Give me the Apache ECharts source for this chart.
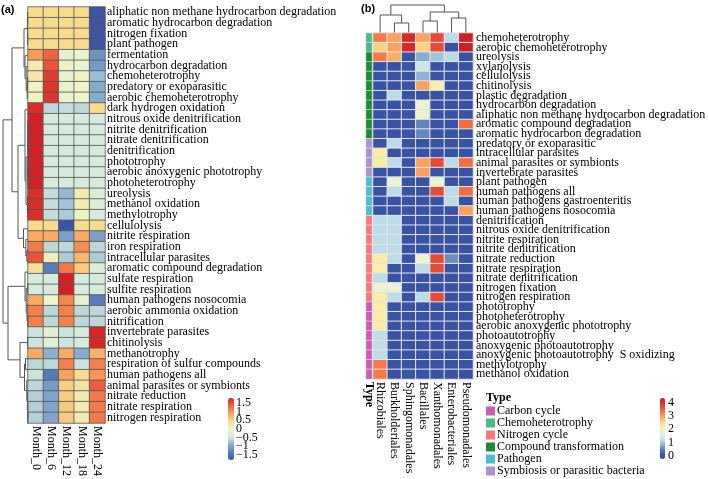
<!DOCTYPE html>
<html><head><meta charset="utf-8">
<script src="https://cdn.jsdelivr.net/npm/echarts@6/dist/echarts.min.js"></script>
<style>html,body{margin:0;padding:0;background:#fff}#c{width:709px;height:479px}</style>
</head><body><div id="c"></div>
<script>
// ---------- Panel (a) data ----------
const monthsA = ['Month_0','Month_6','Month_12','Month_18','Month_24'];
const rowsA = ['aliphatic non methane hydrocarbon degradation','aromatic hydrocarbon degradation','nitrogen fixation','plant pathogen','fermentation','hydrocarbon degradation','chemoheterotrophy','predatory or exoparasitic','aerobic chemoheterotrophy','dark hydrogen oxidation','nitrous oxide denitrification','nitrite denitrification','nitrate denitrification','denitrification','phototrophy','aerobic anoxygenic phototrophy','photoheterotrophy','ureolysis','methanol oxidation','methylotrophy','cellulolysis','nitrite respiration','iron respiration','intracellular parasites','aromatic compound degradation','sulfate respiration','sulfite respiration','human pathogens nosocomia','aerobic ammonia oxidation','nitrification','invertebrate parasites','chitinolysis','methanotrophy','respiration of sulfur compounds','human pathogens all','animal parasites or symbionts','nitrate reduction','nitrate respiration','nitrogen respiration'];
const valuesA = [
 [0.45,0.45,0.45,0.45,-1.79],
 [0.45,0.45,0.45,0.45,-1.79],
 [0.45,0.45,0.45,0.45,-1.79],
 [0.45,0.45,0.45,0.45,-1.79],
 [0.95,1.35,-0.2,-0.1,-1.15],
 [0.2,1.45,0.05,-0.1,-1.1],
 [0.25,1.6,-0.15,0.05,-0.8],
 [0.05,1.65,-0.1,0,-0.95],
 [0.05,1.65,-0.1,0,-0.95],
 [1.7,-0.6,-0.55,-0.6,0.45],
 [1.79,-0.45,-0.45,-0.45,-0.45],
 [1.79,-0.45,-0.45,-0.45,-0.45],
 [1.79,-0.45,-0.45,-0.45,-0.45],
 [1.79,-0.45,-0.45,-0.45,-0.45],
 [1.79,-0.45,-0.45,-0.45,-0.45],
 [1.79,-0.45,-0.45,-0.45,-0.45],
 [1.79,-0.45,-0.45,-0.45,-0.45],
 [1.7,-0.55,-0.85,0.2,-0.35],
 [1.7,-0.55,-0.75,0.15,-0.35],
 [1.7,-0.55,-0.7,0.05,-0.45],
 [0.45,0.45,-1.79,0.45,0.45],
 [0.85,0.85,-1.05,0.85,-1.05],
 [1.2,-0.6,-0.6,1.05,-0.6],
 [1.45,0.1,-0.7,0.75,-0.7],
 [0.4,-1.35,1.2,0.6,-0.3],
 [-0.45,-0.45,1.79,-0.45,-0.45],
 [-0.45,-0.45,1.79,-0.45,-0.45],
 [0.85,0.0,1.1,-0.2,-1.35],
 [1.15,-0.6,1.15,-0.6,-0.6],
 [1.15,-0.6,1.15,-0.6,-0.6],
 [-0.5,-0.25,-0.5,-0.45,1.75],
 [-0.5,-0.25,-0.5,-0.45,1.75],
 [0.85,-0.9,0.85,-0.95,0.8],
 [-0.6,-0.6,1.15,-0.5,1.15],
 [-0.5,-1.4,0.9,0.45,1.0],
 [-0.6,-1.1,0.55,0.3,1.4],
 [-0.65,-1.0,0.6,0.2,1.2],
 [-0.65,-1.0,0.6,0.2,1.2],
 [-0.65,-1.0,0.6,0.2,1.2]
];
// row dendrogram: [left, right, mergeHeight], leaves are row indices
const rowTreeA = [
 [
  [[[0,1,0.3],[2,3,0.3],0.6],[4,[5,[[6,7,0.4],8,0.8],1.8],3.0],4],
  [[9,[[[[10,11,0.1],[12,13,0.1],0.15],[[14,15,0.1],16,0.15],0.2],[17,[18,19,0.3],0.6],2.0],3.0],
   [20,[21,[22,23,1.2],2.2],4.5],10],
  16],
 [[24,[[25,26,0.1],[27,[28,29,0.2],1.0],1.8],3],
  [[30,31,0.3],[[32,33,2.5],[34,[35,[36,[37,38,0.1],0.2],0.6],1.2],3.5],8],
  20],
 25];
const legendTicksA1 = [-1.5,-0.5,0.5,1.5];
const legendTicksA2 = [-1,0,1];

// ---------- Panel (b) data ----------
const ordersB = ['Rhizobiales','Burkholderiales','Sphingomonadales','Bacillales','Xanthomonadales','Enterobacteriales','Pseudomonadales'];
const rowsB = ['chemoheterotrophy','aerobic chemoheterotrophy','ureolysis','xylanolysis','cellulolysis','chitinolysis','plastic degradation','hydrocarbon degradation','aliphatic non methane hydrocarbon degradation','aromatic compound degradation','aromatic hydrocarbon degradation','predatory or exoparasitic','intracellular parasites','animal parasites or symbionts','invertebrate parasites','plant pathogen','human pathogens all','human pathogens gastroenteritis','human pathogens nosocomia','denitrification','nitrous oxide denitrification','nitrite respiration','nitrite denitrification','nitrate reduction','nitrate respiration','nitrate denitrification','nitrogen fixation','nitrogen respiration','phototrophy','photoheterotrophy','aerobic anoxygenic phototrophy','photoautotrophy','anoxygenic photoautotrophy','anoxygenic photoautotrophy  S oxidizing','methylotrophy','methanol oxidation'];
const valuesB = [
 [3.3,3.0,4.1,3.0,3.7,1.2,4.3],
 [2.6,3.0,4.1,2.6,3.7,0,4.3],
 [3.3,2.9,0,0.8,1.0,1.2,0],
 [0,0,0,1.4,0,0,0],
 [0,0,0,0.85,0,0,0],
 [0,0,0,3.0,2.1,0,0],
 [0,1.2,0,0,0,0,0],
 [0,0,0,1.8,0,0,0],
 [0,0,0,1.8,0,0,0],
 [0,0,0,0.55,0,0,3.4],
 [0,0,0,0.55,0,0,0],
 [0,1.2,0,0,0,0,0],
 [2.2,0,0,0,0,0,0],
 [2.2,1.2,0,3.0,3.7,1.2,3.4],
 [0,0,0,3.0,0,0,0],
 [0,1.8,0,0,1.8,0,0],
 [0,1.2,0,0,3.7,1.2,3.4],
 [0,0,0,0,0,1.2,0],
 [0,0,0,0,0,0,3.0],
 [1.2,1.2,0,0,0,0,0],
 [1.2,1.2,0,0,0,0,0],
 [1.2,1.2,0,0,0,0,0],
 [1.2,1.2,0,0,0,0,0],
 [2.2,1.2,0,1.8,3.7,0.6,0],
 [2.2,0,0,1.2,3.7,0,0],
 [1.2,0,0,0,0,0,0],
 [1.8,1.8,0,0,0,0,0],
 [2.2,1.2,0,1.2,3.7,0,0],
 [2.2,0,0,0,0,0,0],
 [2.2,0,0,0,0,0,0],
 [2.2,0,0,0,0,0,0],
 [1.2,0,0,0,0,0,0],
 [1.2,0,0,0,0,0,0],
 [1.2,0,0,0,0,0,0],
 [3.3,0,0,0,0,0,0],
 [3.3,0,0,0,0,0,0]
];
const typeNames = ['Carbon cycle','Chemoheterotrophy','Nitrogen cycle','Compound transformation','Pathogen','Symbiosis or parasitic bacteria'];
const typeColors = ['#C95DB6','#4DB98A','#F47B7B','#1E8A33','#4DBCD0','#A991D2'];
const rowTypeB = [1,1,3,3,3,3,3,3,3,3,3,5,5,5,5,4,4,4,4,2,2,2,2,2,2,2,2,2,0,0,0,0,0,0,0,0];
const colTreeB = [[0,[1,2,9.5],17.5],[[3,4,11.5],[5,6,14.5],20.5],27.5];
const legendTicksB = [0,1,2,3,4];

// ---------- helpers ----------
const serif = "'Liberation Serif','DejaVu Serif',serif";
function dendro(tree, swap){
  const segs = [];
  function walk(n){
    if (typeof n === 'number') return {pos:n+0.5, h:0};
    const a = walk(n[0]), b = walk(n[1]), h = n[2];
    let pts = [[a.h,a.pos],[h,a.pos],[h,b.pos],[b.h,b.pos]];
    if (swap) pts = pts.map(p=>[p[1],p[0]]);
    segs.push({coords:pts});
    return {pos:(a.pos+b.pos)/2, h:h};
  }
  walk(tree);
  return segs;
}
const dataA = [];
valuesA.forEach((r,i)=>r.forEach((v,j)=>dataA.push([j,i,v])));
const dataB = [];
valuesB.forEach((r,i)=>r.forEach((v,j)=>dataB.push([j,i,v])));
const dataType = rowTypeB.map((t,i)=>[0,i,t]);
const fmtMinus = v => String(v).replace('-','\u2212');

const colorsA = ['#3B54A3','#5C7DB9','#8DB0D2','#D6EBDD','#EEF5C8','#F8DC8E','#F9A45E','#EF6540','#D42025'];
const colorsB = ['#3953A4','#3953A4','#5B7DB8','#8FB4D3','#BBDCE8','#DDEFE6','#F0F5C6','#FBEDA0','#FDD27E','#FBA862','#F47A4A','#E8503A','#D9302B','#C81E24'];

const legendAxisA = (grid, ticks) => ({gridIndex:grid, type:'value', min:-1.79, max:1.79, position:'right',
  axisLine:{show:false}, axisTick:{show:false}, splitLine:{show:false},
  axisLabel:{customValues:ticks, formatter:fmtMinus, margin:1, fontFamily:serif, fontSize:12, color:'#000',
    hideOverlap:false, showMinLabel:true, showMaxLabel:true}});

const chart = echarts.init(document.getElementById('c'), null, {renderer:'canvas'});
chart.setOption({
  animation:false,
  backgroundColor:'#fff',
  title:[
    {text:'(a)', left:1, top:4, padding:0, textStyle:{fontFamily:'Liberation Sans, Arial, sans-serif', fontWeight:'bold', fontSize:11, color:'#000'}},
    {text:'(b)', left:361, top:3, padding:0, textStyle:{fontFamily:'Liberation Sans, Arial, sans-serif', fontWeight:'bold', fontSize:11, color:'#000'}},
    {text:'Type', left:486, top:392, padding:0, textStyle:{fontFamily:serif, fontWeight:'bold', fontSize:12, color:'#000'}}
  ],
  grid:[
    {left:28, top:7, width:77, height:422},
    {left:0, top:7, width:28, height:422},
    {left:234, top:398, width:1, height:62},
    {left:366, top:33, width:6, height:346},
    {left:373, top:33, width:100, height:346},
    {left:373, top:3, width:100, height:29.5},
    {left:665, top:398, width:1, height:61},
    {left:234, top:398, width:1, height:62}
  ],
  xAxis:[
    {gridIndex:0, type:'category', data:monthsA, axisLine:{show:false}, axisTick:{show:false},
     axisLabel:{rotate:-90, margin:3, fontFamily:serif, fontSize:12, color:'#000', interval:0}},
    {gridIndex:1, type:'value', min:0, max:28, inverse:true, show:false},
    {gridIndex:2, type:'value', show:false},
    {gridIndex:3, type:'category', data:['Type'], axisLine:{show:false}, axisTick:{show:false},
     axisLabel:{rotate:-90, margin:3, fontFamily:serif, fontSize:12, fontWeight:'bold', color:'#000'}},
    {gridIndex:4, type:'category', data:ordersB, axisLine:{show:false}, axisTick:{show:false},
     axisLabel:{rotate:-90, margin:3, fontFamily:serif, fontSize:12, color:'#000', interval:0}},
    {gridIndex:5, type:'value', min:0, max:7, show:false},
    {gridIndex:6, type:'value', show:false},
    {gridIndex:7, type:'value', show:false}
  ],
  yAxis:[
    {gridIndex:0, type:'category', data:rowsA, inverse:true, position:'right', axisLine:{show:false}, axisTick:{show:false},
     axisLabel:{margin:2, fontFamily:serif, fontSize:12, color:'#000', interval:0}},
    {gridIndex:1, type:'value', min:0, max:39, inverse:true, show:false},
    legendAxisA(2, legendTicksA1),
    {gridIndex:3, type:'category', data:rowsB, inverse:true, show:false},
    {gridIndex:4, type:'category', data:rowsB, inverse:true, position:'right', axisLine:{show:false}, axisTick:{show:false},
     axisLabel:{margin:3, fontFamily:serif, fontSize:12, color:'#000', interval:0}},
    {gridIndex:5, type:'value', min:0, max:29.5, show:false},
    {gridIndex:6, type:'value', min:-0.225, max:4.35, position:'right', axisLine:{show:false}, axisTick:{show:false}, splitLine:{show:false},
     axisLabel:{customValues:legendTicksB, margin:2, fontFamily:serif, fontSize:12, color:'#000', hideOverlap:false}},
    legendAxisA(7, legendTicksA2)
  ],
  visualMap:[
    {type:'continuous', seriesIndex:0, dimension:2, min:-1.79, max:1.79, inRange:{color:colorsA},
     left:228, top:398, itemWidth:6, itemHeight:62, padding:0, calculable:false, hoverLink:false, text:null},
    {type:'continuous', seriesIndex:3, dimension:2, min:-0.2, max:4.35, inRange:{color:colorsB},
     left:660, top:398, itemWidth:5, itemHeight:61, padding:0, calculable:false, hoverLink:false, text:null},
    {type:'piecewise', seriesIndex:2, dimension:2, orient:'vertical', inverse:true, align:'left',
     pieces:typeNames.map((n,i)=>({value:i, label:n, color:typeColors[i]})),
     left:486, top:405, itemWidth:9, itemHeight:9, itemGap:0, itemSymbol:'rect', textGap:2, padding:0,
     selectedMode:false, hoverLink:false, textStyle:{fontFamily:serif, fontSize:12, color:'#000'}}
  ],
  series:[
    {type:'heatmap', xAxisIndex:0, yAxisIndex:0, data:dataA, itemStyle:{borderColor:'#555', borderWidth:0.8}},
    {type:'lines', coordinateSystem:'cartesian2d', xAxisIndex:1, yAxisIndex:1, polyline:true, silent:true,
     data:dendro(rowTreeA,false), lineStyle:{color:'#555', width:1, opacity:1}},
    {type:'heatmap', xAxisIndex:3, yAxisIndex:3, data:dataType, itemStyle:{borderColor:'#fff', borderWidth:0.5}},
    {type:'heatmap', xAxisIndex:4, yAxisIndex:4, data:dataB, itemStyle:{borderColor:'#e4e4e4', borderWidth:1}},
    {type:'lines', coordinateSystem:'cartesian2d', xAxisIndex:5, yAxisIndex:5, polyline:true, silent:true,
     data:dendro(colTreeB,true), lineStyle:{color:'#555', width:1, opacity:1}}
  ]
});
</script></body></html>
